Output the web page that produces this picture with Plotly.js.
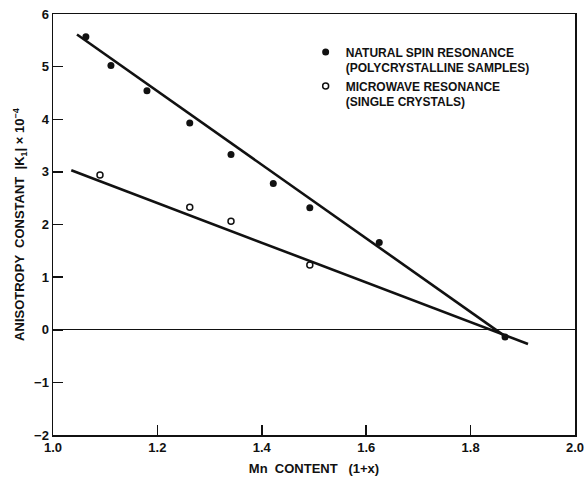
<!DOCTYPE html>
<html>
<head>
<meta charset="utf-8">
<script src="https://cdn.plot.ly/plotly-3.0.1.min.js"></script>
<style>html,body{margin:0;padding:0;background:#fff;}#chart{width:584px;height:480px;}</style>
</head>
<body>
<div id="chart"></div>
<script>
// Natural spin resonance (polycrystalline samples) - filled circles
const spinX = [1.063, 1.111, 1.180, 1.262, 1.341, 1.422, 1.492, 1.625, 1.866];
const spinY = [5.57, 5.02, 4.54, 3.93, 3.33, 2.78, 2.32, 1.66, -0.14];
// Microwave resonance (single crystals) - open circles
const microX = [1.090, 1.262, 1.341, 1.492];
const microY = [2.94, 2.33, 2.06, 1.23];
// Fitted straight lines (end points)
const spinFitX = [1.046, 1.867];
const spinFitY = [5.61, -0.13];
const microFitX = [1.035, 1.910];
const microFitY = [3.03, -0.27];
// Axis ticks
const xTicks = [1.0, 1.2, 1.4, 1.6, 1.8, 2.0];
const yTicks = [-2, -1, 0, 1, 2, 3, 4, 5, 6];

const FONT = "Liberation Sans, Arial, sans-serif";

const traces = [
  {x: spinFitX, y: spinFitY, mode: 'lines', line: {color: '#111', width: 2.6}, showlegend: false, hoverinfo: 'skip'},
  {x: microFitX, y: microFitY, mode: 'lines', line: {color: '#111', width: 2.6}, showlegend: false, hoverinfo: 'skip'},
  {x: spinX, y: spinY, mode: 'markers', name: 'NATURAL SPIN RESONANCE<br>(POLYCRYSTALLINE SAMPLES)',
   marker: {symbol: 'circle', size: 7, color: '#111'}},
  {x: microX, y: microY, mode: 'markers', name: 'MICROWAVE RESONANCE<br>(SINGLE CRYSTALS)',
   marker: {symbol: 'circle-open', size: 6, color: '#111', line: {width: 1.5}}}
];

const layout = {
  width: 584, height: 480,
  margin: {l: 53, r: 9, t: 14, b: 45},
  paper_bgcolor: '#fff', plot_bgcolor: '#fff',
  font: {family: FONT, color: '#111'},
  showlegend: true,
  legend: {x: 0.484, y: 0.944, xanchor: 'left', yanchor: 'top', valign: 'top',
           bgcolor: 'rgba(0,0,0,0)', font: {family: FONT, size: 12, color: '#111', weight: 'bold'},
           tracegroupgap: 9, itemwidth: 30},
  xaxis: {
    range: [1.0, 2.0], tickvals: xTicks, tickformat: '.1f',
    ticks: 'inside', ticklen: 10, tickwidth: 1.5, tickcolor: '#111',
    showline: true, mirror: true, linecolor: '#111', linewidth: 1.5,
    showgrid: false, zeroline: false, ticklabeloverflow: 'allow',
    tickfont: {family: FONT, size: 13, color: '#111', weight: 'bold'},
    title: {text: 'Mn  CONTENT   (1+x)', standoff: 10, font: {family: FONT, size: 13, color: '#111', weight: 'bold'}},
    automargin: false
  },
  yaxis: {
    range: [-2, 6], tickvals: yTicks,
    ticks: 'inside', ticklen: 10, tickwidth: 1.5, tickcolor: '#111',
    showline: true, mirror: true, linecolor: '#111', linewidth: 1.5,
    showgrid: false, zeroline: true, zerolinecolor: '#111', zerolinewidth: 1.2,
    tickfont: {family: FONT, size: 13, color: '#111', weight: 'bold'},
    title: {text: 'ANISOTROPY  CONSTANT  |K<sub>1</sub>| × 10<sup>−4</sup>', standoff: 6, font: {family: FONT, size: 13, color: '#111', weight: 'bold'}},
    automargin: false
  }
};

Plotly.newPlot('chart', traces, layout, {displayModeBar: false, staticPlot: true});
</script>
</body>
</html>
